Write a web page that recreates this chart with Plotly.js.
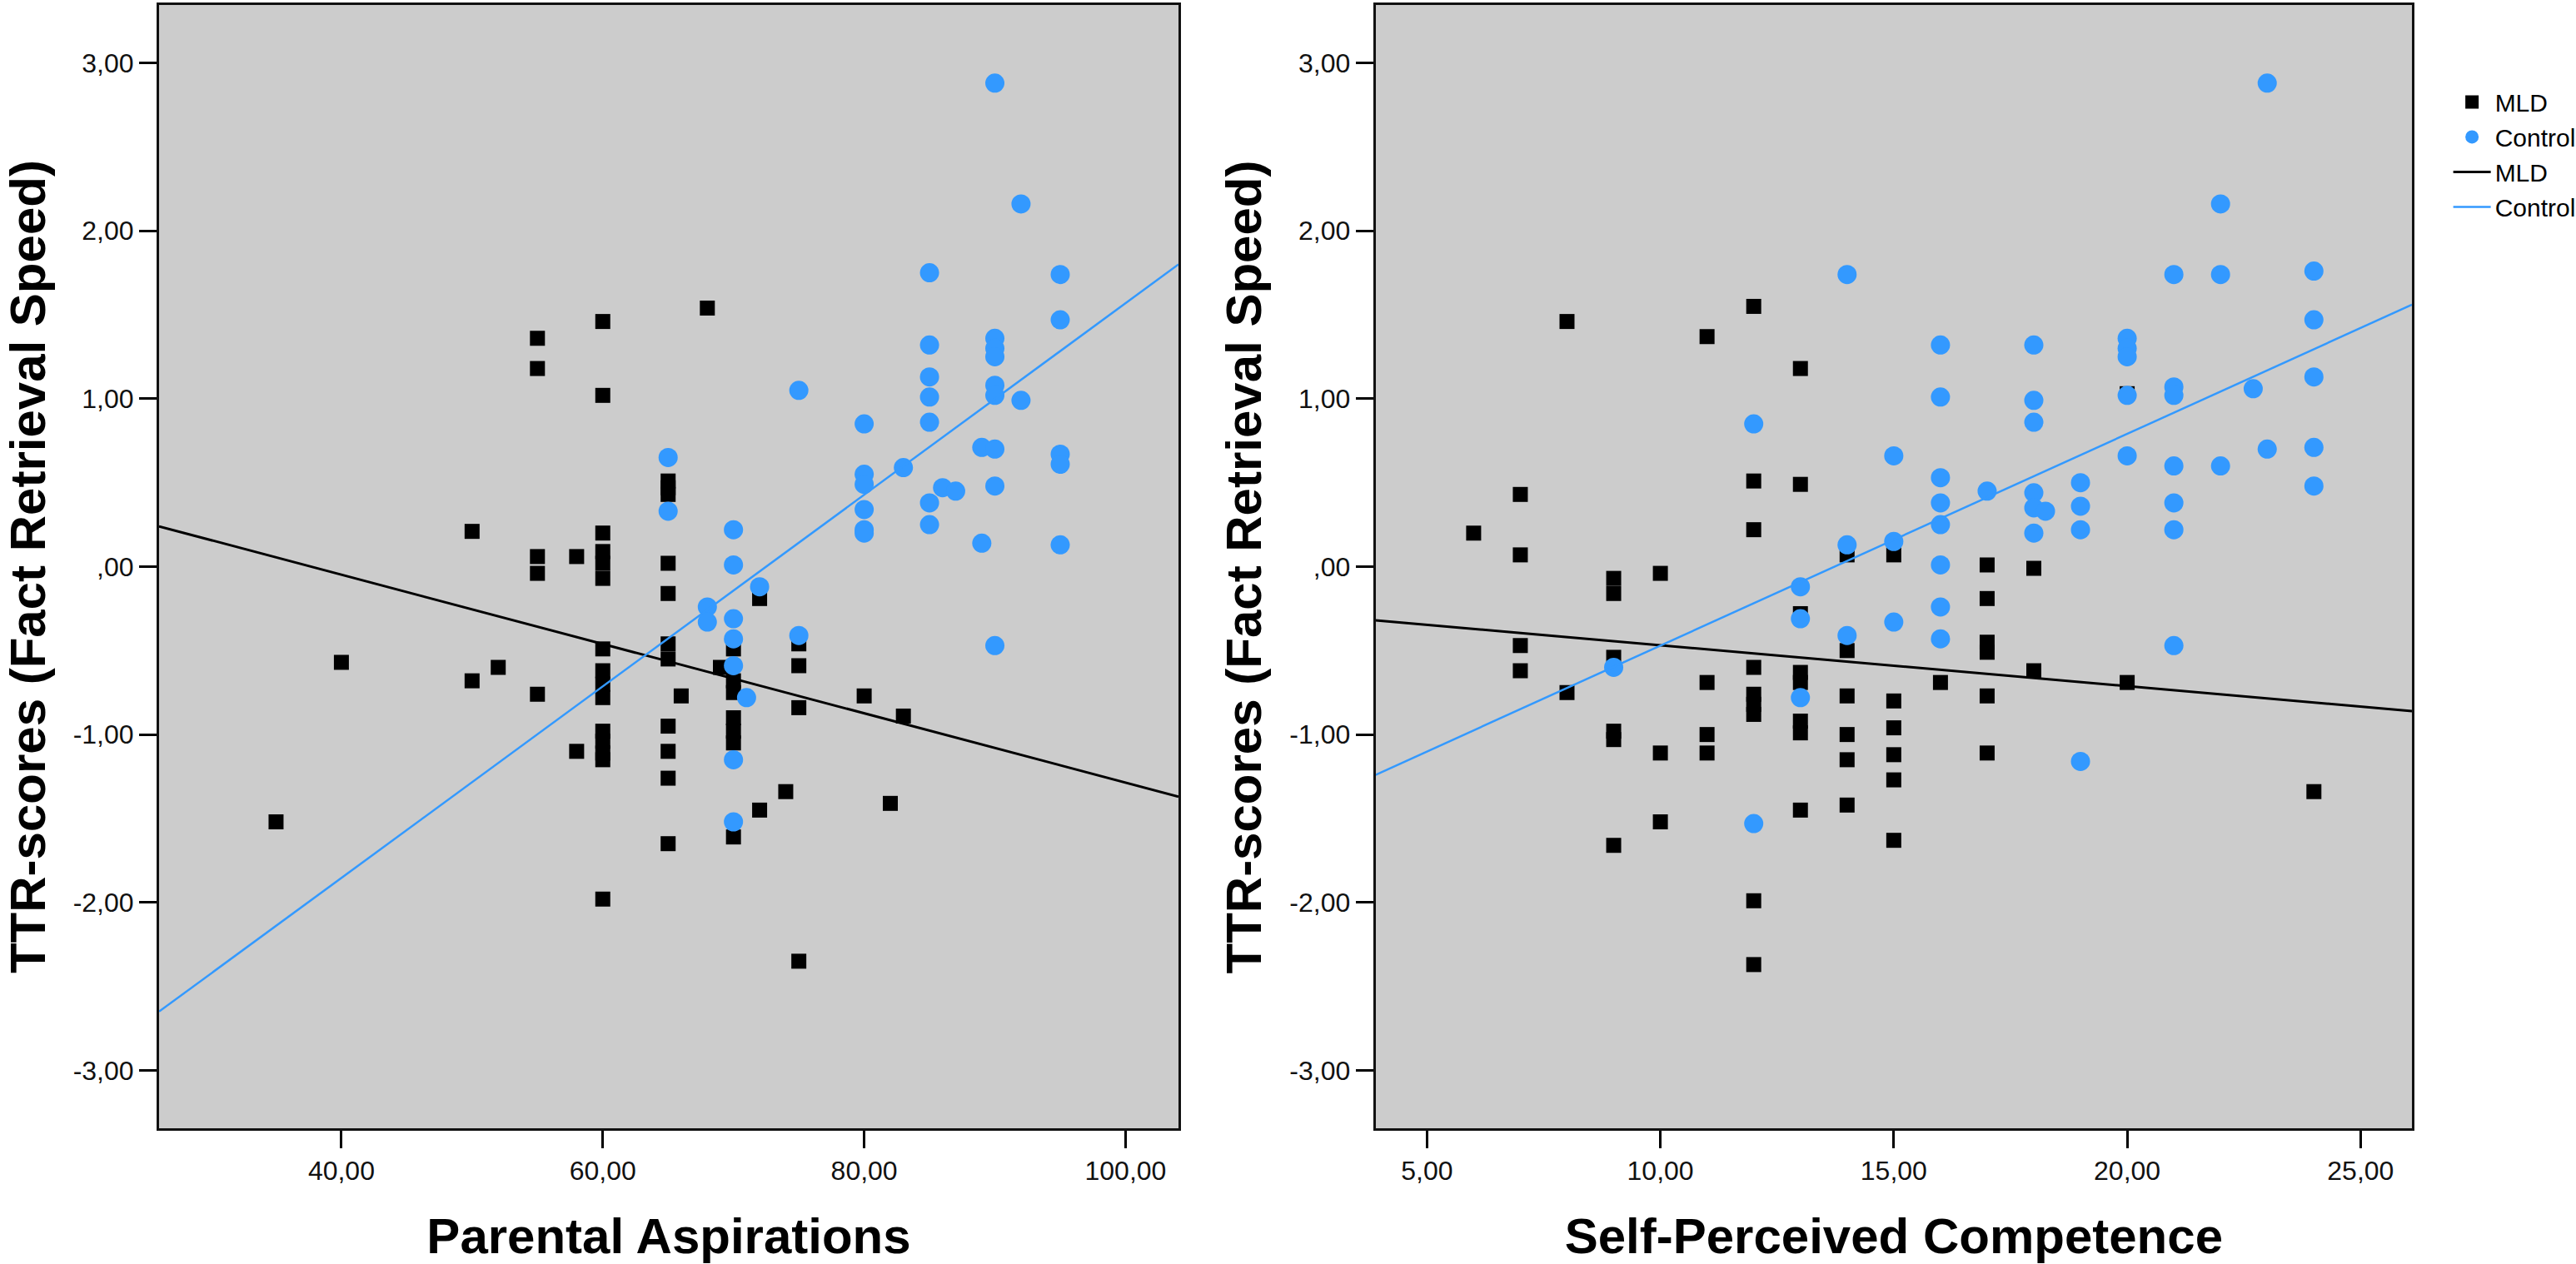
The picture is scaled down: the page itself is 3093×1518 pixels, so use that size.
<!DOCTYPE html>
<html>
<head>
<meta charset="utf-8">
<script src="https://cdn.plot.ly/plotly-3.0.1.min.js"></script>
<style>
  html, body { margin: 0; padding: 0; background: #ffffff; }
  #chart { width: 3093px; height: 1518px; }
</style>
</head>
<body>
<div id="chart"></div>
<script>
// Left panel: Parental Aspirations vs TTR-scores
const paMldX = [35, 40, 50, 50, 52, 55, 55, 55, 55, 55, 58, 58,
  60, 60, 60, 60, 60, 60, 60, 60, 60, 60, 60, 60, 60, 60, 60,
  65, 65, 65, 65, 65, 65, 65, 65, 65, 65, 65, 66, 68, 69,
  70, 70, 70, 70, 70, 70, 70, 72, 72, 74, 75, 75, 75, 75, 80, 82, 83];
const paMldY = [-1.52, -0.57, 0.21, -0.68, -0.60, 1.36, 1.18, 0.06, -0.04, -0.76, 0.06, -1.10,
  1.46, 1.02, 0.20, 0.09, 0.02, -0.07, -0.49, -0.62, -0.70, -0.78, -0.98, -1.04, -1.11, -1.15, -1.98,
  0.51, 0.47, 0.43, 0.02, -0.16, -0.46, -0.55, -0.95, -1.10, -1.26, -1.65, -0.77, 1.54, -0.60,
  -0.49, -0.68, -0.75, -0.90, -0.98, -1.05, -1.61, -0.19, -1.45, -1.34, -0.46, -0.59, -0.84, -2.35, -0.77, -1.41, -0.89];

const paCtrlX = [65, 65, 68, 68, 70, 70, 70, 70, 70, 70, 70, 71, 72, 75, 75,
  80, 80, 80, 80, 80, 80, 83, 85, 85, 85, 85, 85, 85, 85, 86, 87, 89, 89,
  90, 90, 90, 90, 90, 90, 90, 90, 90, 92, 92, 95, 95, 95, 95, 95];
const paCtrlY = [0.65, 0.33, -0.24, -0.33, 0.22, 0.01, -0.31, -0.43, -0.59, -1.15, -1.52, -0.78, -0.12, 1.05, -0.41,
  0.85, 0.55, 0.49, 0.34, 0.22, 0.20, 0.59, 1.75, 1.32, 1.13, 1.01, 0.86, 0.38, 0.25, 0.47, 0.45, 0.71, 0.14,
  2.88, 1.36, 1.30, 1.25, 1.08, 1.02, 0.70, 0.48, -0.47, 2.16, 0.99, 1.74, 1.47, 0.67, 0.61, 0.13];

// fit lines read at the axis edges
const paFitX = [26.05, 104.05];
const paMldFitY = [0.24, -1.37];
const paCtrlFitY = [-2.65, 1.80];

// Right panel: Self-Perceived Competence vs TTR-scores
const spcMldX = [6, 7, 7, 7, 7, 8, 8, 9, 9, 9, 9, 9, 9, 10, 10, 10, 11, 11, 11, 11,
  12, 12, 12, 12, 12, 12, 12, 12, 12, 13, 13, 13, 13, 13, 13, 13, 13,
  14, 14, 14, 14, 14, 14, 15, 15, 15, 15, 15, 15, 16, 17, 17, 17, 17, 17, 17, 18, 18, 20, 20, 24];
const spcMldY = [0.20, 0.43, 0.07, -0.47, -0.62, 1.46, -0.75, -0.07, -0.16, -0.54, -0.98, -1.03, -1.66, -0.04, -1.11, -1.52, 1.37, -0.69, -1.00, -1.11,
  1.55, 0.51, 0.22, -0.60, -0.76, -0.82, -0.88, -1.99, -2.37, 1.18, 0.49, -0.28, -0.63, -0.69, -0.92, -0.99, -1.45,
  0.07, -0.50, -0.77, -1.00, -1.15, -1.42, 0.07, -0.80, -0.96, -1.12, -1.27, -1.63, -0.69, 0.01, -0.19, -0.45, -0.51, -0.77, -1.11, -0.01, -0.62, 1.03, -0.69, -1.34];

const spcCtrlX = [9, 12, 12, 13, 13, 13, 14, 14, 14, 15, 15, 15,
  16, 16, 16, 16, 16, 16, 16, 16, 17, 18, 18, 18, 18, 18, 18.25, 18,
  19, 19, 19, 19, 20, 20, 20, 20, 20, 21, 21, 21, 21, 21, 21, 21,
  22, 22, 22, 22.7, 23, 23, 24, 24, 24, 24, 24];
const spcCtrlY = [-0.60, 0.85, -1.53, -0.12, -0.31, -0.78, 1.74, 0.13, -0.41, 0.66, 0.15, -0.33,
  1.32, 1.01, 0.53, 0.38, 0.25, 0.01, -0.24, -0.43, 0.45, 1.32, 0.99, 0.86, 0.44, 0.35, 0.33, 0.20,
  0.50, 0.36, 0.22, -1.16, 1.36, 1.30, 1.25, 1.02, 0.66, 1.74, 1.07, 1.02, 0.60, 0.38, 0.22, -0.47,
  2.16, 1.74, 0.60, 1.06, 2.88, 0.70, 1.76, 1.47, 1.13, 0.71, 0.48];

const spcFitX = [3.9, 26.1];
const spcMldFitY = [-0.32, -0.86];
const spcCtrlFitY = [-1.24, 1.56];

const yTicks = [-3, -2, -1, 0, 1, 2, 3];
const yTickText = ['-3,00', '-2,00', '-1,00', ',00', '1,00', '2,00', '3,00'];
const paTicks = [40, 60, 80, 100];
const paTickText = ['40,00', '60,00', '80,00', '100,00'];
const spcTicks = [5, 10, 15, 20, 25];
const spcTickText = ['5,00', '10,00', '15,00', '20,00', '25,00'];
const yTitle = 'TTR-scores (Fact Retrieval Speed)';

const mldColor = '#000000';
const ctrlColor = '#3399ff';
const fontFamily = 'Liberation Sans, Arial, sans-serif';
const titleFont = {family: fontFamily, size: 60, weight: 'bold', color: '#000'};

function markerTrace(x, y, name, symbol, color, size, xa, ya, showlegend) {
  return {
    x: x, y: y, xaxis: xa, yaxis: ya,
    type: 'scatter', mode: 'markers', name: name,
    marker: {symbol: symbol, color: color, size: size, line: {width: 0}},
    showlegend: showlegend, hoverinfo: 'x+y'
  };
}

function lineTrace(x, y, name, color, width, xa, ya, showlegend) {
  return {
    x: x, y: y, xaxis: xa, yaxis: ya,
    type: 'scatter', mode: 'lines', name: name,
    line: {color: color, width: width},
    showlegend: showlegend, hoverinfo: 'skip'
  };
}

var data = [
  markerTrace(paMldX, paMldY, 'MLD', 'square', mldColor, 18, 'x', 'y', true),
  markerTrace(paCtrlX, paCtrlY, 'Control', 'circle', ctrlColor, 23, 'x', 'y', true),
  lineTrace(paFitX, paMldFitY, 'MLD', mldColor, 3, 'x', 'y', true),
  lineTrace(paFitX, paCtrlFitY, 'Control', ctrlColor, 2.5, 'x', 'y', true),
  markerTrace(spcMldX, spcMldY, 'MLD', 'square', mldColor, 18, 'x2', 'y2', false),
  markerTrace(spcCtrlX, spcCtrlY, 'Control', 'circle', ctrlColor, 23, 'x2', 'y2', false),
  lineTrace(spcFitX, spcMldFitY, 'MLD', mldColor, 3, 'x2', 'y2', false),
  lineTrace(spcFitX, spcCtrlFitY, 'Control', ctrlColor, 2.5, 'x2', 'y2', false)
];

function xAxis(domain, range, ticks, text, title) {
  return {
    domain: domain, range: range, anchor: domain[0] === 0 ? 'y' : 'y2',
    tickmode: 'array', tickvals: ticks, ticktext: text,
    ticks: 'outside', ticklen: 21, tickwidth: 3, tickcolor: '#000',
    tickfont: {family: fontFamily, size: 32, color: '#111'},
    showline: true, linewidth: 3, linecolor: '#111', mirror: true,
    showgrid: false, zeroline: false, automargin: false,
    title: {text: title, font: titleFont}
  };
}

function yAxis(anchor) {
  return {
    domain: [0, 1], range: [-3.345, 3.345], anchor: anchor,
    tickmode: 'array', tickvals: yTicks, ticktext: yTickText,
    ticks: 'outside', ticklen: 21, tickwidth: 3, tickcolor: '#000',
    tickfont: {family: fontFamily, size: 32, color: '#111'},
    showline: true, linewidth: 3, linecolor: '#111', mirror: true,
    showgrid: false, zeroline: false, automargin: false
  };
}

// y titles sit closer to the tick labels than plotly's default, so place them by hand
function yTitleNote(x) {
  return {
    text: yTitle, xref: 'paper', yref: 'paper', x: x, y: 0.5,
    xanchor: 'center', yanchor: 'middle', textangle: -90,
    showarrow: false, font: titleFont
  };
}

var layout = {
  width: 3093, height: 1518,
  margin: {l: 191, r: 197, t: 6, b: 163, autoexpand: false},
  paper_bgcolor: '#ffffff', plot_bgcolor: '#cccccc',
  font: {family: fontFamily, color: '#000'},
  xaxis: xAxis([0, 0.4525], [26.05, 104.05], paTicks, paTickText, 'Parental Aspirations'),
  yaxis: yAxis('x'),
  xaxis2: xAxis([0.54, 1], [3.9, 26.1], spcTicks, spcTickText, 'Self-Perceived Competence'),
  yaxis2: yAxis('x2'),
  annotations: [yTitleNote(-0.0582), yTitleNote(0.4817)],
  showlegend: true,
  legend: {
    x: 1.0165, xanchor: 'left', y: 0.933, yanchor: 'top',
    bgcolor: 'rgba(0,0,0,0)', borderwidth: 0,
    itemwidth: 45,
    font: {family: fontFamily, size: 30, color: '#000'},
    tracegroupgap: 0
  }
};

window.addEventListener('load', (event) => {
  Plotly.newPlot('chart', data, layout, {displayModeBar: false, staticPlot: true});
});
</script>
</body>
</html>
